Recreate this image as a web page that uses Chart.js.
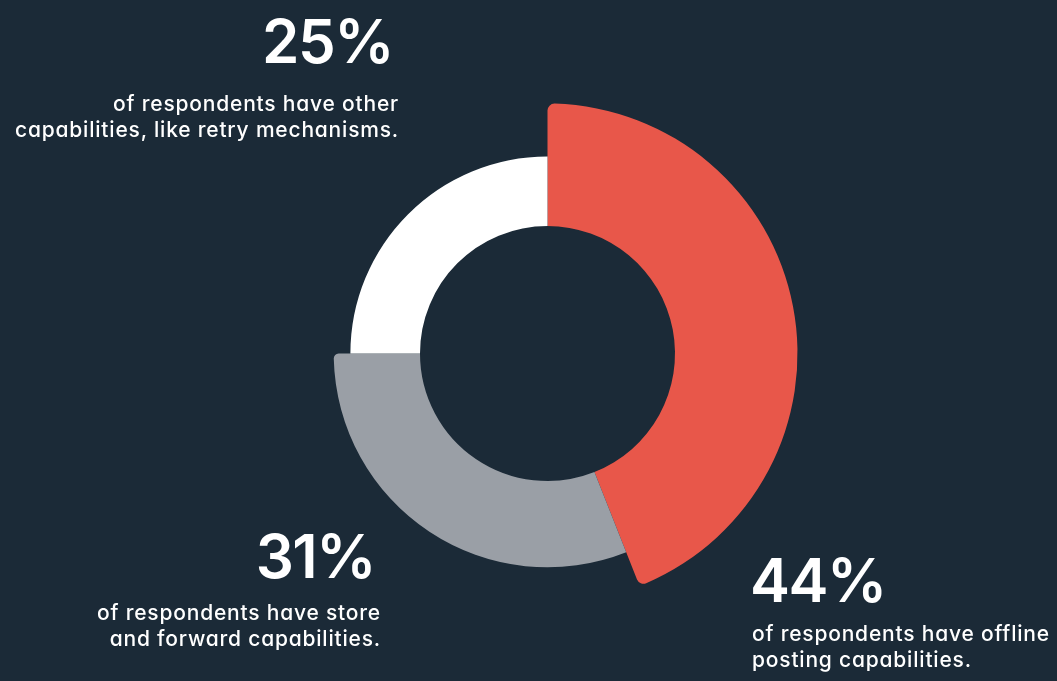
<!DOCTYPE html>
<html>
<head>
<meta charset="utf-8">
<script src="https://cdn.jsdelivr.net/npm/chart.js@4"></script>
<style>
  html, body { margin: 0; padding: 0; background: #1b2a37; }
  #wrap { position: relative; width: 1057px; height: 681px; overflow: hidden; background: #1b2a37; }
  canvas { position: absolute; left: 0; top: 0; }
  .big, .sub {
    position: absolute; color: #ffffff; white-space: nowrap;
    font-family: Inter, "Open Sans", sans-serif;
    font-feature-settings: "cv11" 1;
  }
  .big { font-size: 60px; line-height: 60px; font-weight: 600; letter-spacing: -1.5px; }
  .sub { font-size: 21px; line-height: 26px; font-weight: 500; letter-spacing: 0.8px; }
  .right { text-align: right; }
</style>
</head>
<body>
<div id="wrap">
  <canvas id="chart" width="1057" height="681"></canvas>
  <div class="big right" id="pct2" style="right:664px; top:11.2px;"></div>
  <div class="sub right" id="txt2" style="right:658px; top:91.4px;"></div>
  <div class="big right" id="pct1" style="right:682px; top:525.7px;"></div>
  <div class="sub right" id="txt1" style="right:676px; top:600.4px;"></div>
  <div class="big" id="pct0" style="left:750px; top:550.2px;"></div>
  <div class="sub" id="txt0" style="left:752px; top:621.1px;"></div>
</div>
<script>
// Share of respondents by capability
const categories = ['Offline posting', 'Store and forward', 'Other (retry mechanisms)'];
const shares = [44, 31, 25];
const captions = [
  ['of respondents have offline', 'posting capabilities.'],
  ['of respondents have store', 'and forward capabilities.'],
  ['of respondents have other', 'capabilities, like retry mechanisms.']
];
const colors = ['#e8574a', '#9a9fa6', '#ffffff'];

// Callout text for each slice
shares.forEach((v, i) => {
  document.getElementById('pct' + i).textContent = v + '%';
  const box = document.getElementById('txt' + i);
  captions[i].forEach((line, k) => {
    if (k) box.appendChild(document.createElement('br'));
    box.appendChild(document.createTextNode(line));
  });
});

// Ring thickness of each slice grows with its value
const thicknessByValue = {
  id: 'thicknessByValue',
  afterDatasetsUpdate(chart) {
    const meta = chart.getDatasetMeta(0);
    const values = chart.data.datasets[0].data;
    const max = Math.max(...values);
    const inner = meta.controller.innerRadius;
    const outer = meta.controller.outerRadius;
    meta.data.forEach((arc, i) => {
      arc.outerRadius = inner + (outer - inner) * values[i] / max;
    });
  }
};

new Chart(document.getElementById('chart'), {
  type: 'doughnut',
  data: {
    labels: categories,
    datasets: [{
      data: shares,
      backgroundColor: colors,
      borderWidth: 0,
      borderRadius: [
        { outerStart: 7, outerEnd: 7, innerStart: 0, innerEnd: 0 },
        { outerStart: 0, outerEnd: 5, innerStart: 0, innerEnd: 0 },
        0
      ]
    }]
  },
  options: {
    responsive: false,
    animation: false,
    events: [],
    devicePixelRatio: 1,
    cutout: '51%',
    layout: { padding: { left: 297.5, right: 259.5, top: 103.5, bottom: 77.5 } },
    plugins: { legend: { display: false }, tooltip: { enabled: false } }
  },
  plugins: [thicknessByValue]
});
</script>
</body>
</html>
